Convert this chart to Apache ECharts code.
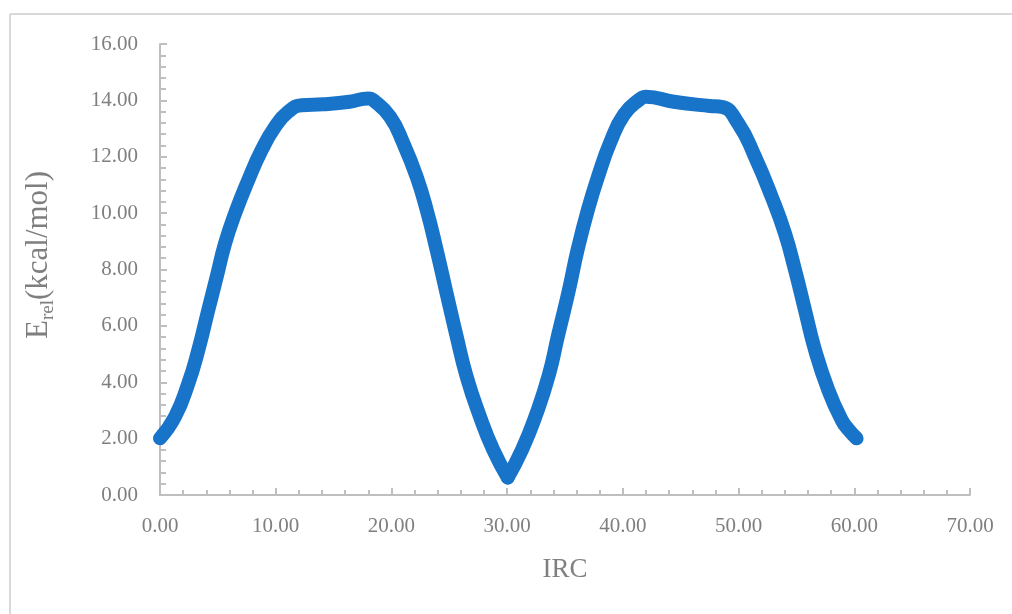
<!DOCTYPE html>
<html><head><meta charset="utf-8">
<script src="https://cdn.jsdelivr.net/npm/echarts@6/dist/echarts.min.js"></script>
<style>html,body{margin:0;padding:0;background:#fff}#c{width:1012px;height:614px}</style>
</head><body><div id="c"></div>
<script>
const irc = [0, 1.30, 2.45, 3.31, 4.17, 4.90, 5.62, 6.48, 7.63, 8.79, 9.94, 11.09, 12.25, 14.1, 16.4, 18.0, 18.43, 19.88, 21.03, 22.18, 23.05, 23.91, 24.77, 25.64, 26.50, 27.65, 28.80, 30.05, 31.3, 32.5, 33.6, 34.4, 35.3, 36.1, 37.0, 37.9, 38.9, 40.1, 41.5, 42.0, 44.4, 47.5, 48.54, 49.97, 51.42, 52.86, 54.01, 54.88, 55.74, 56.61, 57.76, 58.91, 59.5, 60.2];
const erel = [2.01, 2.78, 3.96, 5.14, 6.56, 7.74, 8.92, 9.98, 11.17, 12.24, 13.06, 13.60, 13.83, 13.86, 13.95, 14.07, 14.01, 13.42, 12.48, 11.29, 10.11, 8.69, 7.15, 5.62, 4.20, 2.78, 1.60, 0.62, 1.62, 2.85, 4.25, 5.66, 7.20, 8.72, 10.15, 11.35, 12.50, 13.50, 14.05, 14.13, 13.95, 13.80, 13.77, 13.18, 12.00, 10.58, 9.28, 7.98, 6.56, 5.14, 3.72, 2.66, 2.32, 2.01];
const xTicks = {min: 0, max: 70, interval: 10};
const yTicks = {min: 0, max: 16, interval: 2};
const yTitle = '{a|E}{s|rel}{a|(kcal/mol)}';
const xTitle = 'IRC';

const chart = echarts.init(document.getElementById('c'));
const font = '"Liberation Serif", "DejaVu Serif", serif';
const axisCol = '#bfbfbf';
const txtCol = '#7f7f7f';
const pts = irc.map((x, i) => [x, erel[i]]);
// split at the sharp minimum so the V keeps its point
let iMin = 0;
erel.forEach((v, i) => { if (v < erel[iMin]) iMin = i; });
const lineStyle = {color: '#1874c9', width: 14, cap: 'round', join: 'round'};
chart.setOption({
  animation: false,
  graphic: [
    {type: 'line', shape: {x1: 10, y1: 14, x2: 1012, y2: 14}, style: {stroke: '#d9d9d9', lineWidth: 2}},
    {type: 'line', shape: {x1: 10, y1: 14, x2: 10, y2: 614}, style: {stroke: '#d9d9d9', lineWidth: 2}},
    {type: 'text', x: 39, y: 255, rotation: Math.PI / 2,
     style: {text: yTitle, align: 'center', verticalAlign: 'middle', fill: txtCol,
       font: '31px ' + font,
       rich: {a: {fontFamily: font, fontSize: 31, fill: txtCol, lineHeight: 38, verticalAlign: 'middle'},
              s: {fontFamily: font, fontSize: 19, fill: txtCol, lineHeight: 17, verticalAlign: 'bottom'}}}}
  ],
  grid: {left: 160, right: 42, top: 44, bottom: 119},
  xAxis: {
    type: 'value', min: xTicks.min, max: xTicks.max, interval: xTicks.interval,
    name: xTitle, nameLocation: 'middle', nameGap: 61,
    nameTextStyle: {fontFamily: font, fontSize: 27, color: txtCol},
    axisLine: {show: true, lineStyle: {color: axisCol, width: 2}},
    axisTick: {show: true, inside: true, length: 7, lineStyle: {color: axisCol, width: 2}},
    minorTick: {show: true, splitNumber: 5, length: 5, lineStyle: {color: axisCol, width: 2}},
    splitLine: {show: false},
    axisLabel: {fontFamily: font, fontSize: 21, color: txtCol, margin: 21, formatter: v => v.toFixed(2)}
  },
  yAxis: {
    type: 'value', min: yTicks.min, max: yTicks.max, interval: yTicks.interval,
    axisLine: {show: true, lineStyle: {color: axisCol, width: 2}},
    axisTick: {show: true, inside: true, length: 7, lineStyle: {color: axisCol, width: 2}},
    minorTick: {show: true, splitNumber: 5, length: 6, lineStyle: {color: axisCol, width: 2}},
    splitLine: {show: false},
    axisLabel: {fontFamily: font, fontSize: 21, color: txtCol, margin: 22, formatter: v => v.toFixed(2)}
  },
  series: [
    {type: 'line', data: pts.slice(0, iMin + 1), smooth: 0.5, showSymbol: false, lineStyle: lineStyle},
    {type: 'line', data: pts.slice(iMin), smooth: 0.5, showSymbol: false, lineStyle: lineStyle}
  ]
});
</script></body></html>
